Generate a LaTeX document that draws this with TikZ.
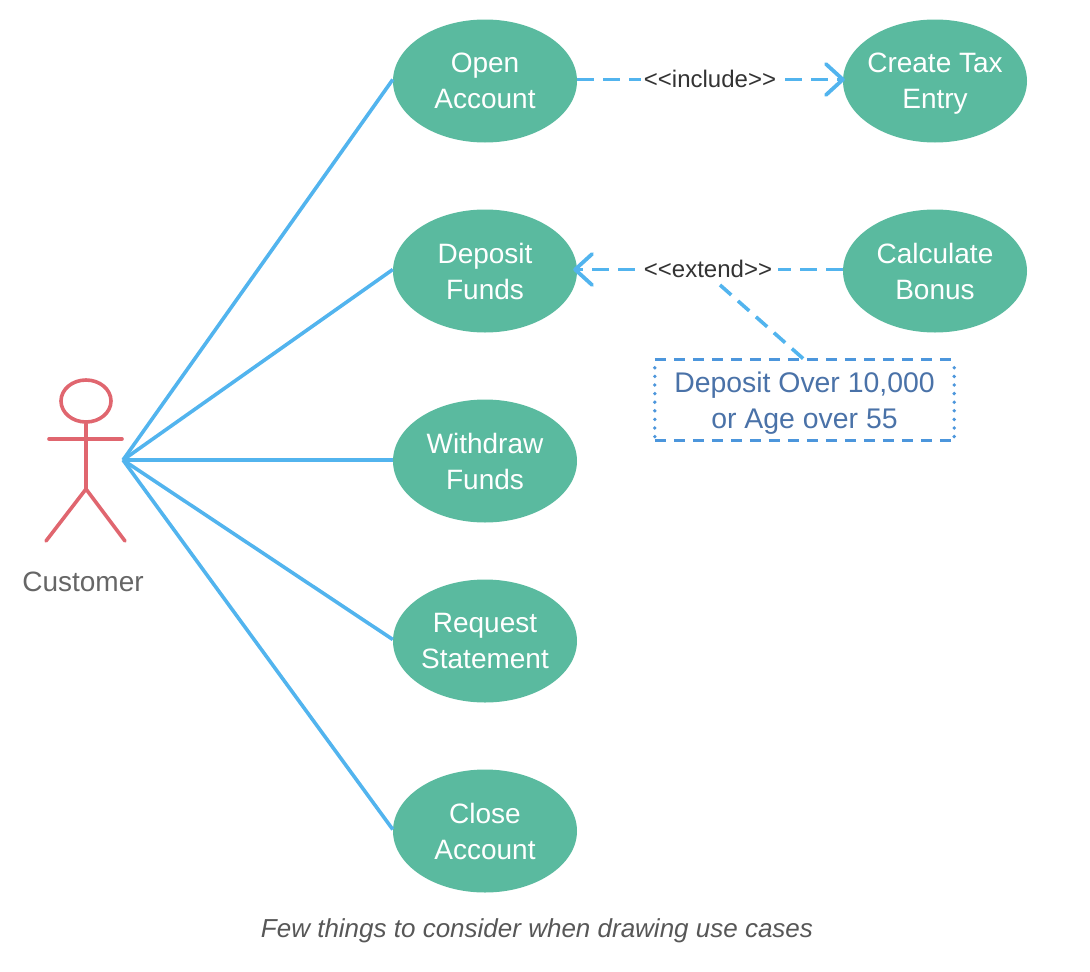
\documentclass[tikz,border=0pt]{standalone}
\usepackage{fontspec}
\setmainfont{Liberation Sans}
\usetikzlibrary{arrows.meta,shapes.geometric}
\definecolor{ucgreen}{HTML}{5ABA9F}
\definecolor{ucblue}{HTML}{52B4EE}
\definecolor{ucred}{HTML}{E0666F}
\definecolor{notedash}{HTML}{4C96DC}
\definecolor{notetext}{HTML}{4A72A8}
\definecolor{gtext}{HTML}{666666}
\tikzset{
  x=1pt,y=-1pt,
  usecase/.style={ellipse,fill=ucgreen,draw=none,minimum width=184pt,minimum height=123pt,inner sep=-20pt,
    text=white,align=center,text depth=0pt,font=\fontsize{28}{36}\selectfont},
  assoc/.style={draw=ucblue,line width=3.6pt},
  rel/.style={draw=ucblue,line width=3.6pt,dash pattern=on 17pt off 9pt},
  openhead/.style={-{Straight Barb[length=17pt,width=31pt,line width=3.8pt,round]}},
  relabel/.style={fill=white,inner sep=1.5pt,text=black!80,font=\fontsize{24}{28}\selectfont},
  actor/.style={draw=ucred,line width=3.6pt,line cap=round},
  notebar/.style={draw=notedash,line width=3.2pt,dash pattern=on 11pt off 8pt},
  noteside/.style={draw=notedash,line width=3.8pt,line cap=round,dash pattern=on 0pt off 8.6pt},
}
\begin{document}
\begin{tikzpicture}
\useasboundingbox (0,0) rectangle (1090,972);
% use cases
\node[usecase] (open) at (485,81) {Open\\Account};
\node[usecase] (deposit) at (485,271) {Deposit\\Funds};
\node[usecase] (withdraw) at (485,461) {Withdraw\\Funds};
\node[usecase] (request) at (485,641) {Request\\Statement};
\node[usecase] (close) at (485,831) {Close\\Account};
\node[usecase] (tax) at (935,81) {Create Tax\\Entry};
\node[usecase] (bonus) at (935,271) {Calculate\\Bonus};
% actor
\node[ellipse,draw=ucred,line width=3.6pt,minimum width=50pt,minimum height=42pt,inner sep=0pt] (head) at (86,401) {};
\coordinate (hip) at (86,489);
\coordinate (armL) at (49,439);
\coordinate (armR) at (122,439);
\coordinate (legL) at (46,541);
\coordinate (legR) at (125,541);
\draw[actor] (head.south) -- (hip);
\draw[actor] (armL) -- (armR);
\draw[actor] (legL) -- (hip) -- (legR);
\node[text=gtext,font=\fontsize{28}{32}\selectfont] (customer) at (83,582) {Customer};
% associations
\coordinate (hub) at (123,460);
\draw[assoc] (hub) -- ([yshift=1.5pt]open.west);
\draw[assoc] (hub) -- ([yshift=1.5pt]deposit.west);
\draw[assoc] (hub) -- ([yshift=1pt]withdraw.west);
\draw[assoc] (hub) -- ([yshift=1.5pt]request.west);
\draw[assoc] (hub) -- ([yshift=1.5pt]close.west);
% note
\node[minimum width=299pt,minimum height=80pt,inner sep=0pt,align=center,text=notetext,text depth=-2.4pt,
  font=\fontsize{28.4}{36}\selectfont] (note) at (804.5,400) {Deposit Over 10,000\\or Age over 55};
\draw[notebar] (note.north west) -- (note.north east);
\draw[notebar] (note.south west) -- (note.south east);
\draw[noteside] ([yshift=-8pt]note.north west) -- (note.south west);
\draw[noteside] ([yshift=-8pt]note.north east) -- (note.south east);
% relations
\draw[rel,openhead] ([yshift=1.5pt]open.east) -- ([shift={(2pt,1.5pt)}]tax.west);
\draw[rel,openhead] ([yshift=1.5pt]bonus.west) -- ([shift={(-4pt,1.5pt)}]deposit.east);
\node[relabel,inner xsep=3pt] (inc) at (710,79) {<{}<include>{}>};
\node[relabel,inner xsep=6pt] (ext) at (708,269) {<{}<extend>{}>};
\coordinate (extfoot) at (720,285);
\draw[rel,dash pattern=on 15pt off 9pt] (extfoot) -- (note.north);
% caption
\node[text=gtext!85!black,font=\itshape\fontsize{26}{30}\selectfont] (caption) at (537,931) {Few things to consider when drawing use cases};
\end{tikzpicture}
\end{document}
